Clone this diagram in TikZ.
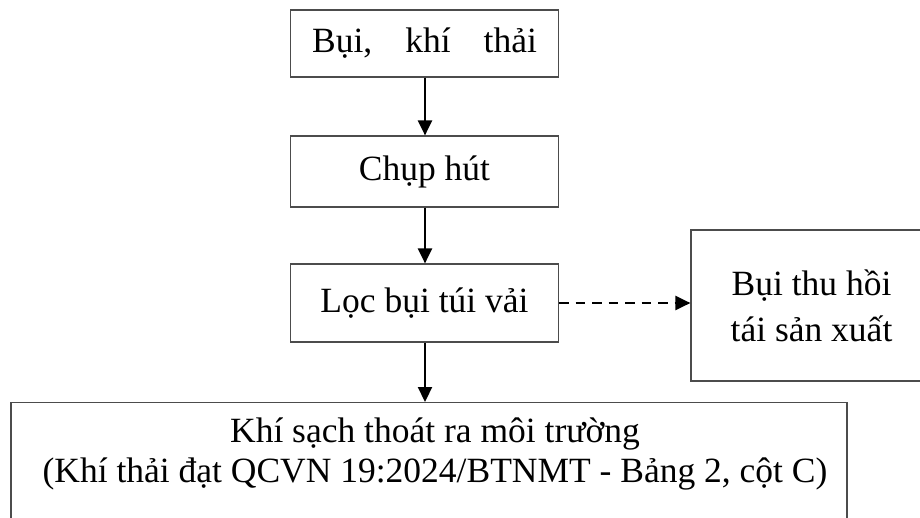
\documentclass[tikz,border=0pt]{standalone}
\usepackage{fontspec}
\setmainfont{Liberation Serif}
\usetikzlibrary{arrows.meta}
\tikzset{
  box/.style={draw=black!70, line width=1.2pt, rectangle, inner sep=0pt, align=center,
    font=\fontsize{35.5}{46}\selectfont},
  flow/.style={line width=2.2pt, -{Triangle[length=15pt,width=14pt]}},
  dflow/.style={flow, dash pattern=on 9.5pt off 7pt},
  txt/.style={inner sep=0pt, align=center, font=\fontsize{35.5}{40}\selectfont}
}
\begin{document}
\begin{tikzpicture}[x=1pt,y=-1pt]
\clip (0,0) rectangle (920,517);
\fill[white] (0,0) rectangle (920,517);
\node[box, minimum width=268pt, minimum height=67pt] (b1) at (424.5,43.5) {Bụi,\hspace{33pt}khí\hspace{33pt}thải};
\node[box, minimum width=268pt, minimum height=71pt] (b2) at (424.5,171.5) {Chụp hút};
\node[box, minimum width=268pt, minimum height=78pt] (b3) at (424.5,303) {Lọc bụi túi vải};
\node[box, minimum width=241pt, minimum height=151pt] (b4) at (811.5,305.5) {Bụi thu hồi\\tái sản xuất};
\node[box, minimum width=836pt, minimum height=150pt, anchor=north] (b5) at (429,402) {};
\node[txt, anchor=north] (t5) at (435,418) {Khí sạch thoát ra môi trường\\(Khí thải đạt QCVN 19:2024/BTNMT - Bảng 2, cột C)};
\draw[flow] (b1.south -| 425,0) -- (b2.north -| 425,0);
\draw[flow] (b2.south -| 425,0) -- (b3.north -| 425,0);
\draw[flow] (b3.south -| 425,0) -- (b5.north -| 425,0);
\draw[dflow] (b3.east) -- (b4.west |- b3.east);
\end{tikzpicture}
\end{document}
